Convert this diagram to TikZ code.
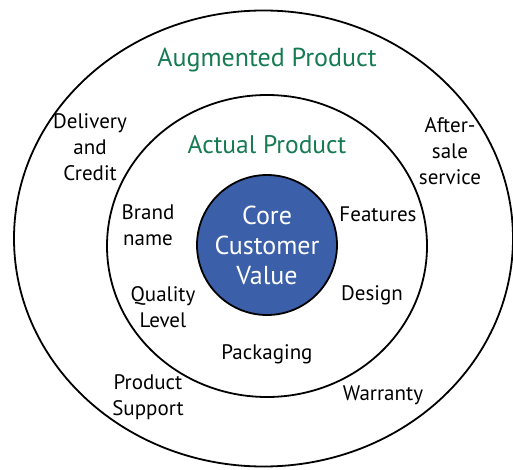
\documentclass[tikz,border=0pt]{standalone}
\usepackage{fontspec}
\setmainfont{PT Sans}
\definecolor{ringgreen}{RGB}{22,122,82}
\definecolor{coreblue}{RGB}{59,95,168}
\begin{document}
\begin{tikzpicture}[x=1pt, y=-1pt, line width=1.8pt, line join=round,
    lbl/.style={font=\fontsize{21}{26}\selectfont, align=center, inner sep=0pt},
    ttl/.style={font=\fontsize{26}{28}\selectfont, text=ringgreen, inner sep=0pt}]
    \useasboundingbox (0,0) rectangle (513,470);
    % rings
    \draw (263.5,238.5) ellipse [x radius=249.5pt, y radius=228pt];
    \draw (267,246) ellipse [x radius=160pt, y radius=151pt];
    \node (core) at (267,245) [circle, draw, fill=coreblue, minimum size=140pt, inner sep=0pt,
        text=white, align=center, font=\fontsize{26}{30}\selectfont] {Core\\Customer\\Value};
    % titles
    \node (augm) at (267,60) [ttl] {Augmented Product};
    \node (actual) at (267,145) [ttl, font=\fontsize{25.5}{28}\selectfont] {Actual Product};
    % augmented product
    \node (deliv) at (90,147) [lbl] {Delivery\\and\\Credit};
    \node (after) at (450,151) [lbl] {After-\\sale\\service};
    \node (support) at (148,397) [lbl] {Product\\Support};
    \node (warr) at (383,395) [lbl] {Warranty};
    % actual product
    \node (brand) at (148,225) [lbl] {Brand\\name};
    \node (feat) at (378,214) [lbl] {Features};
    \node (qual) at (163,307) [lbl] {Quality\\Level};
    \node (design) at (372,295) [lbl] {Design};
    \node (pack) at (267,354) [lbl] {Packaging};
\end{tikzpicture}
\end{document}
